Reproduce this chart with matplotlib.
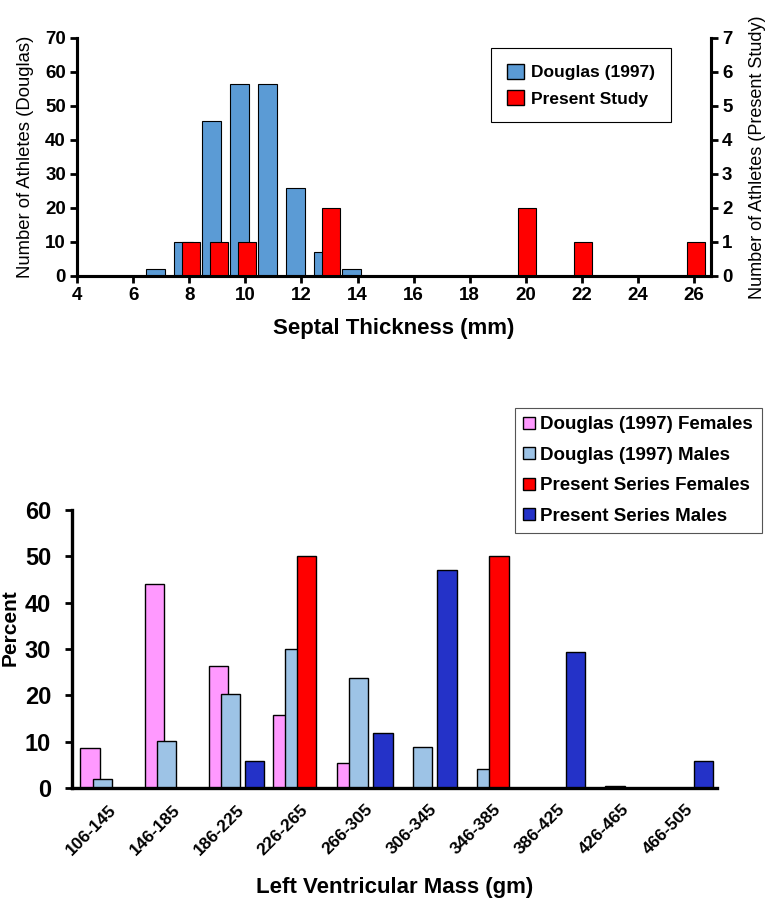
import numpy as np
import matplotlib
matplotlib.use('Agg')
import matplotlib.pyplot as plt
from matplotlib.patches import Patch

plt.rcParams['font.family'] = ['Liberation Sans', 'DejaVu Sans']

# --- top chart data: septal thickness histograms ---
septal_mm = [7, 8, 9, 10, 11, 12, 13, 14]
douglas_counts = [2, 10, 45.5, 56.5, 56.5, 26, 7, 2]
present_mm = [8, 9, 10, 13, 20, 22, 26]
present_counts = [1, 1, 1, 2, 2, 1, 1]

# --- bottom chart data: LV mass distribution (percent) ---
lvm_bins = ['106-145', '146-185', '186-225', '226-265', '266-305',
            '306-345', '346-385', '386-425', '426-465', '466-505']
douglas_females = [8.7, 44, 26.3, 15.8, 5.3, 0, 0, 0, 0, 0]
douglas_males = [2, 10.2, 20.3, 30, 23.8, 8.8, 4, 0, 0.5, 0]
present_females = [0, 0, 0, 50, 0, 0, 50, 0, 0, 0]
present_males = [0, 0, 5.9, 0, 11.8, 47, 0, 29.3, 0, 5.8]

c_blue = '#5B9BD5'
c_red = '#FF0000'
c_pink = '#FF99FF'
c_lblue = '#9DC3E6'
c_dblue = '#2432C8'

fig = plt.figure(figsize=(7.82, 8.99), dpi=100)

# ------------------------------------------------------------------ top
ax1 = fig.add_axes([77 / 782, 1 - 276 / 899, (711 - 77) / 782, (276 - 38) / 899])
ax1r = ax1.twinx()

ax1.bar(np.array(septal_mm) - 0.2, douglas_counts, width=0.68, color=c_blue,
        edgecolor='black', linewidth=0.8, label='Douglas (1997)')
ax1r.bar(np.array(present_mm) + 0.05, present_counts, width=0.64, color=c_red,
         edgecolor='black', linewidth=0.8, label='Present Study')

ax1.set_xlim(4, 26.6)
ax1.set_ylim(0, 70)
ax1r.set_ylim(0, 7)
ax1.set_xticks(range(4, 27, 2))
ax1.set_yticks(range(0, 71, 10))
ax1r.set_yticks(range(0, 8))

for a in (ax1, ax1r):
    a.spines['top'].set_visible(False)
    for s in ('left', 'right', 'bottom'):
        a.spines[s].set_linewidth(2.2)
    a.tick_params(width=2, length=5, labelsize=13.5, pad=3)
    for lab in a.get_xticklabels() + a.get_yticklabels():
        lab.set_fontweight('bold')

ax1.set_xlabel('Septal Thickness (mm)', fontsize=16, fontweight='bold', labelpad=10)
ax1.set_ylabel('Number of Athletes (Douglas)', fontsize=13.3, labelpad=8)
ax1r.set_ylabel('Number of Athletes (Present Study)', fontsize=13, rotation=90, labelpad=12)

handles = [Patch(facecolor=c_blue, edgecolor='black'), Patch(facecolor=c_red, edgecolor='black')]
leg1 = ax1r.legend(handles, ['Douglas (1997)', 'Present Study'],
                   loc='upper left', bbox_to_anchor=((491 - 77) / 634, 1 - (48 - 38) / 238),
                   prop={'size': 12.5, 'weight': 'bold'}, fancybox=False, framealpha=1,
                   edgecolor='black', handlelength=1.0, handleheight=1.0,
                   handletextpad=0.4, borderpad=0.9, labelspacing=0.55, borderaxespad=0)
leg1.get_frame().set_linewidth(0.8)

# ------------------------------------------------------------------ bottom
ax2 = fig.add_axes([72 / 782, 1 - 788 / 899, (717 - 72) / 782, (788 - 510) / 899])
x = np.arange(len(lvm_bins))
step = 0.19
w = 0.30
series = [(douglas_females, c_pink, 'Douglas (1997) Females'),
          (douglas_males, c_lblue, 'Douglas (1997) Males'),
          (present_females, c_red, 'Present Series Females'),
          (present_males, c_dblue, 'Present Series Males')]
for i, (vals, col, lab) in enumerate(series):
    ax2.bar(x + (i - 1.5) * step, vals, width=w, color=col, edgecolor='black',
            linewidth=1.0, label=lab)

ax2.set_xlim(-0.566, 9.496)
ax2.set_ylim(0, 60)
ax2.set_yticks(range(0, 61, 10))
ax2.set_xticks(x)
ax2.set_xticklabels(lvm_bins, rotation=45, ha='right', va='top',
                    rotation_mode='anchor', fontsize=12.5, fontweight='bold')
ax2.tick_params(axis='x', length=0, pad=10)
ax2.tick_params(axis='y', width=2, length=5, labelsize=17, pad=10)
for lab in ax2.get_yticklabels():
    lab.set_fontweight('bold')
for s in ('top', 'right'):
    ax2.spines[s].set_visible(False)
for s in ('left', 'bottom'):
    ax2.spines[s].set_linewidth(2.4)

ax2.set_xlabel('Left Ventricular Mass (gm)', fontsize=16, fontweight='bold', labelpad=14)
fig.text(10 / 782, 1 - 628 / 899, 'Percent', rotation=90, ha='center', va='center',
         fontsize=15, fontweight='bold')

leg2 = ax2.legend(loc='upper left', bbox_to_anchor=((515 - 72) / 645, 1 + (510 - 408) / 278),
                  prop={'size': 13.5, 'weight': 'bold'}, fancybox=False, framealpha=1,
                  edgecolor='#555555', handlelength=0.6, handleheight=0.6,
                  handletextpad=0.3, borderpad=0.45, labelspacing=0.72, borderaxespad=0)
leg2.get_frame().set_linewidth(0.8)

fig.savefig('out.png', dpi=100)
